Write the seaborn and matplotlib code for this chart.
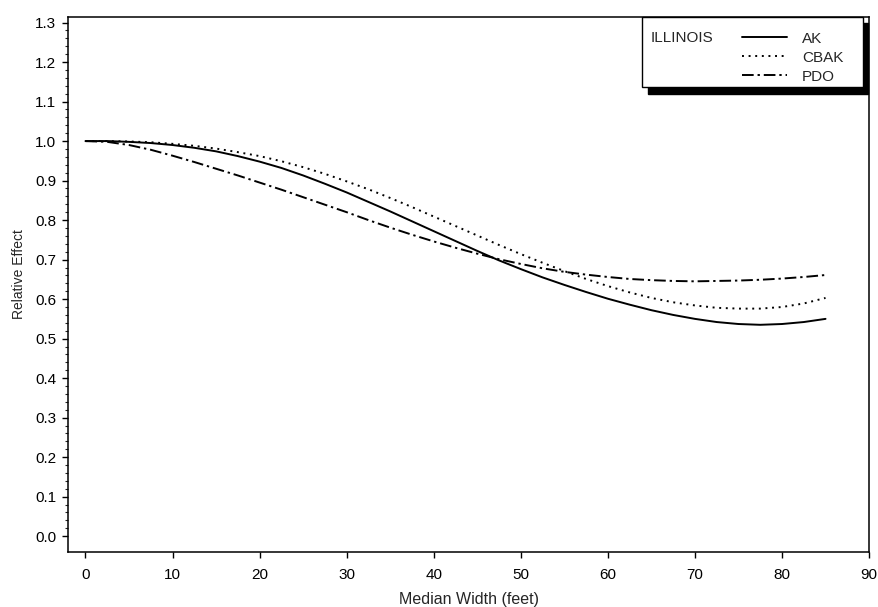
import numpy as np
import pandas as pd
import matplotlib
matplotlib.use("Agg")
import matplotlib.pyplot as plt
import seaborn as sns
from matplotlib.patches import Rectangle
from matplotlib.lines import Line2D

# ---- data ----
median_width = [0, 2.5, 5, 7.5, 10, 12.5, 15, 17.5, 20, 22.5, 25, 27.5, 30, 32.5, 35,
                37.5, 40, 42.5, 45, 47.5, 50, 52.5, 55, 57.5, 60, 62.5, 65, 67.5, 70,
                72.5, 75, 77.5, 80, 82.5, 85]
ak = [1.000, 1.000, 0.998, 0.995, 0.990, 0.983, 0.974, 0.962, 0.948, 0.932, 0.913,
      0.892, 0.870, 0.846, 0.822, 0.797, 0.772, 0.747, 0.722, 0.698, 0.676, 0.655,
      0.636, 0.618, 0.601, 0.586, 0.572, 0.560, 0.550, 0.542, 0.537, 0.535, 0.537,
      0.542, 0.550]
cbak = [1.000, 1.000, 0.999, 0.997, 0.993, 0.988, 0.981, 0.972, 0.962, 0.949, 0.934,
        0.917, 0.898, 0.878, 0.856, 0.833, 0.809, 0.785, 0.761, 0.737, 0.714, 0.692,
        0.671, 0.651, 0.633, 0.617, 0.603, 0.592, 0.584, 0.578, 0.576, 0.576, 0.580,
        0.589, 0.603]
pdo = [1.000, 0.998, 0.990, 0.978, 0.963, 0.947, 0.930, 0.913, 0.895, 0.877, 0.858,
       0.839, 0.820, 0.800, 0.781, 0.763, 0.746, 0.730, 0.715, 0.701, 0.689, 0.678,
       0.669, 0.662, 0.656, 0.651, 0.648, 0.646, 0.645, 0.646, 0.647, 0.649, 0.652,
       0.656, 0.661]
series_names = ["AK", "CBAK", "PDO"]
x_ticks = [0, 10, 20, 30, 40, 50, 60, 70, 80, 90]
y_ticks = [0.0, 0.1, 0.2, 0.3, 0.4, 0.5, 0.6, 0.7, 0.8, 0.9, 1.0, 1.1, 1.2, 1.3]
legend_title = "ILLINOIS"

df = pd.DataFrame({
    "Median Width (feet)": median_width * 3,
    "Relative Effect": ak + cbak + pdo,
    "Model": sum([[n] * len(median_width) for n in series_names], []),
})

sns.set_style("ticks")
plt.rcParams["font.family"] = ["Liberation Sans", "DejaVu Sans"]
plt.rcParams["axes.linewidth"] = 1.1

fig = plt.figure(figsize=(8.79, 6.07), dpi=100)
ax = fig.add_axes([0.0774, 0.0906, 0.9113, 0.8814])

dash_map = {"AK": "", "CBAK": (1.0, 2.4), "PDO": (6.0, 2.0, 1.2, 2.0)}
sns.lineplot(data=df, x="Median Width (feet)", y="Relative Effect", style="Model",
             dashes=dash_map, color="black", linewidth=1.4, legend=False, ax=ax,
             estimator=None, sort=True)

ax.set_xlim(-2, 90)
ax.set_ylim(-0.04, 1.314)
ax.set_xticks(x_ticks)
ax.set_yticks(y_ticks)
ax.set_xticklabels([str(t) for t in x_ticks])
ax.set_yticklabels([f"{t:.1f}" for t in y_ticks])
ax.set_yticks(np.arange(0, 1.31, 0.02), minor=True)
ax.tick_params(axis="both", which="major", labelsize=11, length=4.5, width=1.0,
               direction="out", colors="black")
ax.tick_params(axis="x", which="major", pad=7)
ax.tick_params(axis="y", which="major", pad=4)
ax.tick_params(axis="y", which="minor", length=2, width=0.8, direction="out")
for s in ax.spines.values():
    s.set_visible(True)
    s.set_color("black")
    s.set_linewidth(1.1)

ax.set_xlabel("Median Width (feet)", fontsize=11.5, labelpad=7)
ax.set_ylabel("Relative Effect", fontsize=10)
ax.yaxis.set_label_coords(-0.053, 0.52)

# ---- legend box with shadow ----
bx0, bx1, by0, by1 = 0.717, 0.992, 0.869, 1.0
ax.add_patch(Rectangle((bx0 + 0.007, by0 - 0.012), bx1 - bx0, by1 - by0,
                       transform=ax.transAxes, facecolor="black", edgecolor="black",
                       zorder=5, clip_on=False))
ax.add_patch(Rectangle((bx0, by0), bx1 - bx0, by1 - by0, transform=ax.transAxes,
                       facecolor="white", edgecolor="black", linewidth=1.0, zorder=6,
                       clip_on=False))
ax.text(0.727, 0.961, legend_title, transform=ax.transAxes, fontsize=11,
        va="center", ha="left", zorder=7)

handles = [Line2D([], [], color="black", linewidth=1.4, linestyle="-"),
           Line2D([], [], color="black", linewidth=1.4, dashes=dash_map["CBAK"]),
           Line2D([], [], color="black", linewidth=1.4, dashes=dash_map["PDO"])]
leg = ax.legend(handles, series_names, loc="upper left", bbox_to_anchor=(0.838, 0.978),
                frameon=False, fontsize=11, handlelength=2.9, handletextpad=1.0,
                labelspacing=0.32, borderaxespad=0, borderpad=0.2)
leg.set_zorder(8)

fig.savefig("out.png", dpi=100)
